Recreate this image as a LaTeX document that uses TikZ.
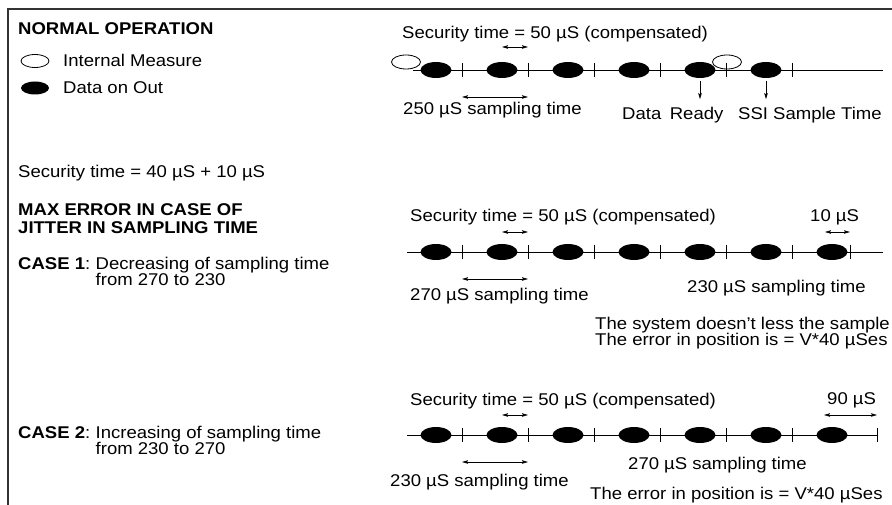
\documentclass[tikz,border=0pt]{standalone}
\usepackage{fontspec}
\setmainfont{Liberation Sans}[FakeStretch=1.09]
\usetikzlibrary{shapes.geometric,arrows.meta}

\begin{document}
\begin{tikzpicture}[x=1pt, y=-1pt, >={Stealth[length=6pt,width=3.5pt,inset=1pt]},
    font=\fontsize{17}{18}\selectfont,
    lbl/.style={inner sep=0pt, anchor=base west},
    dot/.style={ellipse, fill=black, inner sep=0pt, minimum width=31pt, minimum height=16pt},
    ring/.style={ellipse, draw, line width=0.8pt, inner sep=0pt, minimum width=29pt, minimum height=14pt},
    timeline/.style={line width=0.9pt},
    dim/.style={<->, line width=0.8pt},
    down/.style={->, line width=0.8pt},
    border/.style={line width=1.6pt, black!80}]
    \useasboundingbox (0,0) rectangle (892,505);

    \node[lbl] (head) at (18,35) {\textbf{NORMAL OPERATION}};
    \node[ring, minimum width=28pt, minimum height=13pt] (legA) at (35,61) {};
    \node[lbl] (legAt) at (63,67) {Internal Measure};
    \node[dot, minimum width=28pt, minimum height=13pt] (legB) at (35,88) {};
    \node[lbl] (legBt) at (63,94) {Data on Out};
    \node[lbl] (sec) at (18,178) {Security time = 40 µS + 10 µS};
    \node[lbl] (max1) at (18,216) {\textbf{MAX ERROR IN CASE OF}};
    \node[lbl] (max2) at (18,234) {\textbf{JITTER IN SAMPLING TIME}};
    \node[lbl] (cs1) at (18,270) {\textbf{CASE 1}:};
    \node[lbl] (cs1a) at ([xshift=5pt]cs1.base east) {Decreasing of sampling time};
    \node[lbl] (cs1b) at ([yshift=-16pt]cs1a.base west) {from 270 to 230};
    \node[lbl] (cs2) at (18,438) {\textbf{CASE 2}:};
    \node[lbl] (cs2a) at ([xshift=5pt]cs2.base east) {Increasing of sampling time};
    \node[lbl] (cs2b) at ([yshift=-16pt]cs2a.base west) {from 230 to 270};

    % normal operation
    \coordinate (L1) at (413,70);
    \coordinate (R1) at (883,70);
    \draw[timeline] (L1) -- (R1);
    \node[ring] (o0) at (406,62) {};
    \node[ring] (o1) at (727,62) {};
    \foreach \i in {0,...,5} {
      \node[dot] (a\i) at (436+66*\i,70) {};
      \coordinate (ta\i) at (462+66*\i,70);
      \draw[timeline] (ta\i) ++(0,-7) -- ++(0,14);
    }
    \node[lbl] (s1) at (402,39) {Security time = 50 µS (compensated)};
    \draw[dim] ([yshift=23pt]a1.center) -- ([yshift=23pt]ta1);
    \draw[dim] ([yshift=-27pt]ta0) -- ([yshift=-27pt]ta1);
    \node[lbl] (st1) at (403,115) {250 µS sampling time};
    \draw[down] ([yshift=-3pt]a4.south) -- ++(0,18);
    \draw[down] ([yshift=-3pt]a5.south) -- ++(0,18);
    \node[lbl] (dr) at (622,120) {Data\hspace{0.5em}Ready};
    \node[lbl] (ssi) at (738,120) {SSI Sample Time};

    % case 1
    \coordinate (L2) at (407,252);
    \coordinate (R2) at (883,252);
    \draw[timeline] (L2) -- (R2);
    \foreach \i in {0,...,6}
      \node[dot] (b\i) at (436+66*\i,252) {};
    \foreach \i in {0,...,5}
      \coordinate (tb\i) at (462+66*\i,252);
    \coordinate (tb6) at (850,252);
    \foreach \i in {0,...,6}
      \draw[timeline] (tb\i) ++(0,-7) -- ++(0,14);
    \node[lbl] (s2) at (410,222) {Security time = 50 µS (compensated)};
    \draw[dim] ([yshift=20pt]b1.center) -- ([yshift=20pt]tb1);
    \node[lbl] (d10) at (810,222) {10 µS};
    \draw[dim] ([xshift=-7pt,yshift=20pt]b6.center) -- ([yshift=20pt]tb6);
    \draw[dim] ([yshift=-27pt]tb0) -- ([yshift=-27pt]tb1);
    \node[lbl] (st2a) at (410,301) {270 µS sampling time};
    \node[lbl] (st2b) at (687,292) {230 µS sampling time};
    \node[lbl] (n2a) at (595,329) {The system doesn’t less the sample};
    \node[lbl] (n2b) at (595,345) {The error in position is = V*40 µSes};

    % case 2
    \coordinate (L3) at (407,435);
    \coordinate (R3) at (877,435);
    \draw[timeline] (L3) -- (R3);
    \foreach \i in {0,...,6}
      \node[dot] (c\i) at (436+66*\i,435) {};
    \foreach \i in {0,...,5}
      \coordinate (tc\i) at (462+66*\i,435);
    \coordinate (tc6) at (877,435);
    \foreach \i in {0,...,6}
      \draw[timeline] (tc\i) ++(0,-7) -- ++(0,14);
    \node[lbl] (s3) at (410,405) {Security time = 50 µS (compensated)};
    \draw[dim] ([yshift=20pt]c1.center) -- ([yshift=20pt]tc1);
    \node[lbl] (d90) at (827,404) {90 µS};
    \draw[dim] ([xshift=-8pt,yshift=20pt]c6.center) -- ([yshift=20pt]tc6);
    \draw[dim] ([yshift=-27pt]tc0) -- ([yshift=-27pt]tc1);
    \node[lbl] (st3a) at (390,486) {230 µS sampling time};
    \node[lbl] (st3b) at (628,469) {270 µS sampling time};
    \node[lbl] (n3) at (590,499) {The error in position is = V*40 µSes};

    \draw[border] (8,520) -- (8,9) -- (905,9);
\end{tikzpicture}
\end{document}
